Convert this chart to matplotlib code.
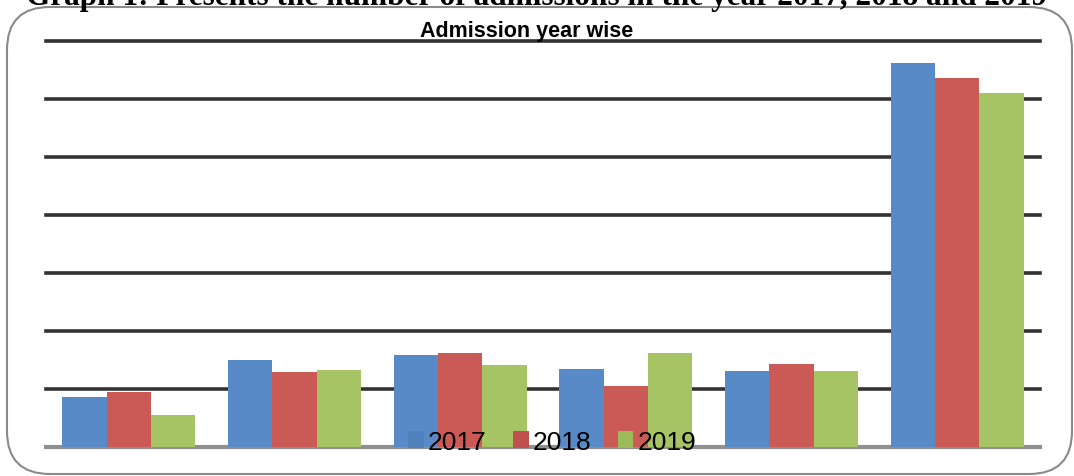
import numpy as np
import matplotlib
matplotlib.use("Agg")
import matplotlib.pyplot as plt
from matplotlib.patches import FancyBboxPatch, Patch

# values (gridline step = 50)
categories = ["Group 1", "Group 2", "Group 3", "Group 4", "Group 5", "Group 6"]
years = ["2017", "2018", "2019"]
adm_2017 = [43, 75, 79, 67, 65, 331]
adm_2018 = [47, 64, 81, 52, 71, 318]
adm_2019 = [27, 66, 70, 81, 65, 305]
colors = ["#588AC7", "#CB5A56", "#A6C464"]
legend_colors = ["#4F81BD", "#C0504D", "#9BBB59"]

fig = plt.figure(figsize=(10.74, 4.77), dpi=100)

# rounded frame around the chart
frame = FancyBboxPatch((7 / 1074, 2 / 477), 1065 / 1074, 467 / 477,
                       boxstyle="round,pad=0,rounding_size=0.04",
                       transform=fig.transFigure, facecolor="none",
                       edgecolor="#8a8a8a", linewidth=1.5,
                       mutation_aspect=1074 / 477)
fig.patches.append(frame)

# caption, partly above the top edge as in the original scan
fig.text(0.5, 1 - 5 / 477,
         "Graph 1: Presents the number of admissions in the year 2017, 2018 and 2019",
         ha="center", va="baseline", fontsize=22.5, fontweight="bold",
         family=["Liberation Serif", "DejaVu Serif"])

ax = fig.add_axes([46 / 1074, 1 - 447.5 / 477, 994 / 1074, 405.5 / 477])
x = np.arange(len(categories))
w = 0.267
for i, vals in enumerate([adm_2017, adm_2018, adm_2019]):
    ax.bar(x + (i - 1) * w, vals, w, color=colors[i], zorder=3)

ax.set_xlim(-0.5, len(categories) - 0.5)
ax.set_ylim(0, 350)
for yv in range(50, 351, 50):
    ax.axhline(yv, color="#333333", linewidth=2.6, zorder=1, clip_on=False)
ax.axhline(0, color="#8f8f8f", linewidth=3, zorder=2, clip_on=False)

for s in ax.spines.values():
    s.set_visible(False)
ax.set_xticks([])
ax.set_yticks([])

fig.text(527 / 1074, 1 - 37 / 477, "Admission year wise", ha="center", va="baseline",
         fontsize=15.5, fontweight="bold",
         family=["Liberation Sans", "DejaVu Sans"])

handles = [Patch(facecolor=c, label=y) for c, y in zip(legend_colors, years)]
leg = fig.legend(handles=handles, loc="center",
                 bbox_to_anchor=(552 / 1074, 1 - 443 / 477),
                 ncol=3, frameon=False, handlelength=0.6,
                 handleheight=0.6, handletextpad=0.15, columnspacing=1.0,
                 prop={"family": ["Liberation Sans", "DejaVu Sans"], "size": 19})
leg.set_zorder(5)

fig.savefig("out.png", dpi=100)
